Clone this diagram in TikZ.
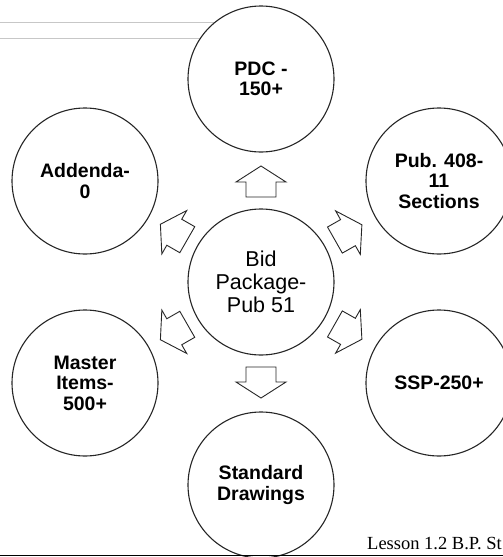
\documentclass[tikz,border=0pt]{standalone}
\usepackage{fontspec}
\setmainfont{Liberation Sans}
\newfontfamily\lessonfont{Liberation Serif}
\usetikzlibrary{calc}
\newcommand\blockarrow[2]{%
  \path coordinate (ba1) at ($(#1)!85pt!(#2)$)
        coordinate (ba2) at ($(#1)!100pt!(#2)$)
        coordinate (ba3) at ($(#1)!116pt!(#2)$);
  \draw[blockarr] ($(ba1)!15pt!90:(#2)$) -- ($(ba2)!15pt!90:(#2)$) -- ($(ba2)!25pt!90:(#2)$)
     -- (ba3) -- ($(ba2)!25pt!-90:(#2)$) -- ($(ba2)!15pt!-90:(#2)$) -- ($(ba1)!15pt!-90:(#2)$) -- cycle;}
\begin{document}
\begin{tikzpicture}[x=1pt,y=-1pt,
  circ/.style={circle,draw=black!85,line width=1.1pt,fill=white,minimum size=146pt,inner sep=0pt,align=center},
  outer/.style={circ,font=\fontsize{19.5}{20.5}\selectfont\bfseries},
  innerc/.style={circ,font=\fontsize{21.5}{23}\selectfont},
  blockarr/.style={draw=black!85,line width=0.9pt,fill=white,line join=miter},
  ruleline/.style={black!22,line width=0.8pt}]
\useasboundingbox (0,0) rectangle (503,557);
\begin{scope}
\clip (0,0) rectangle (503,557);
\coordinate (l1a) at (0,22); \coordinate (l1b) at (215,22);
\coordinate (l2a) at (0,38); \coordinate (l2b) at (215,38);
\draw[ruleline] (l1a) -- (l1b) (l2a) -- (l2b);
\node[innerc] (c) at (261,282) {Bid\\Package-\\Pub 51};
\node[outer] (pdc) at (261,79) {PDC -\\150+};
\node[outer] (add) at (85,181) {Addenda-\\0};
\node[outer] (pub) at (439,181) {Pub. 408-\\11\\Sections};
\node[outer] (mst) at (85,383) {Master\\Items-\\500+};
\node[outer] (ssp) at (439,383) {SSP-250+};
\node[outer] (std) at (261,485) {Standard\\Drawings};
\blockarrow{c}{pdc}
\blockarrow{c}{add}
\blockarrow{c}{pub}
\blockarrow{c}{mst}
\blockarrow{c}{ssp}
\blockarrow{c}{std}
\node[anchor=base west,inner sep=0pt,font=\lessonfont\fontsize{18.5}{20}\selectfont] (lesson) at (367,549) {Lesson 1.2 B.P. St};
\coordinate (ra) at (0,555.5); \coordinate (rb) at (503,555.5);
\draw[line width=1.6pt] (ra) -- (rb);
\end{scope}
\end{tikzpicture}
\end{document}
